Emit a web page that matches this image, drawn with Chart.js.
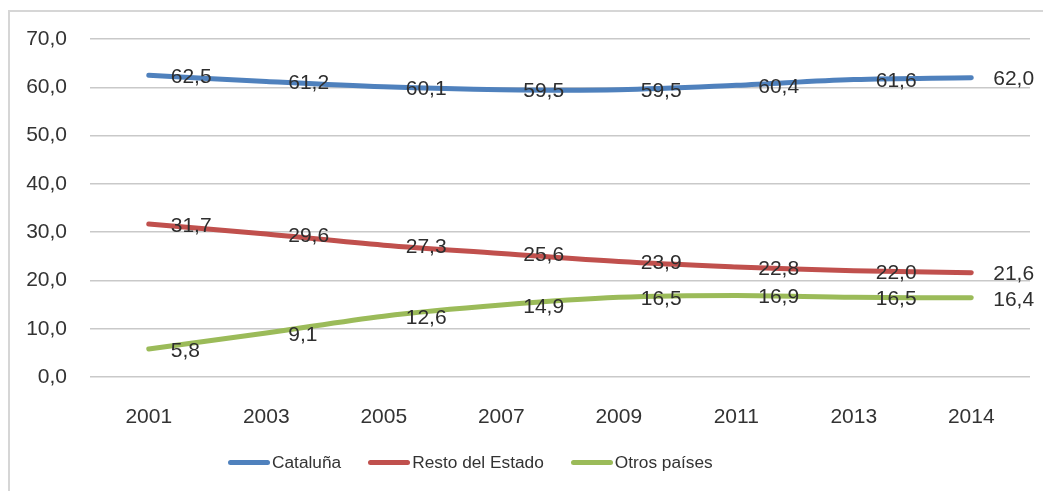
<!DOCTYPE html>
<html>
<head>
<meta charset="utf-8">
<script src="https://cdn.jsdelivr.net/npm/chart.js@4/dist/chart.umd.min.js"></script>
<style>
  html, body { margin: 0; padding: 0; background: #fff; overflow: hidden; }
  #wrap { position: relative; width: 1043px; height: 491px; }
  #frame { position: absolute; left: 8px; top: 10px; width: 1100px; height: 600px; border: 2px solid #d6d6d6; box-sizing: border-box; }
  #chart { position: absolute; left: 0; top: 0; }
  .customLegend { position: absolute; left: 228px; top: 449px; font-family: "Liberation Sans", Arial, sans-serif; font-size: 17.3px; color: #333; white-space: nowrap; }
  .legend { display: inline-flex; align-items: center; margin-right: 27px; }
  .boxIcon { display: inline-block; width: 42px; height: 5px; border-radius: 3px; margin-right: 2px; }
</style>
</head>
<body>
<div id="wrap">
  <div id="frame"></div>
  <canvas id="chart" width="1043" height="491"></canvas>
  <div class="customLegend" id="legend"></div>
</div>
<script>
// data
const years = ["2001", "2003", "2005", "2007", "2009", "2011", "2013", "2014"];
const cataluna = [62.5, 61.2, 60.1, 59.5, 59.5, 60.4, 61.6, 62.0];
const restoEstado = [31.7, 29.6, 27.3, 25.6, 23.9, 22.8, 22.0, 21.6];
const otrosPaises = [5.8, 9.1, 12.6, 14.9, 16.5, 16.9, 16.5, 16.4];
const yTickLabels = ["0,0", "10,0", "20,0", "30,0", "40,0", "50,0", "60,0", "70,0"];
const seriesNames = ["Cataluña", "Resto del Estado", "Otros países"];
const seriesColors = ["#4f81bd", "#c0504d", "#9bbb59"];

const fmt = (v) => v.toFixed(1).replace(".", ",");
const FONT = "'Liberation Sans', Arial, sans-serif";

// value labels to the right of each point
const valueLabels = {
  id: "valueLabels",
  afterDatasetsDraw(chart) {
    const { ctx } = chart;
    ctx.save();
    ctx.font = "21px " + FONT;
    ctx.fillStyle = "#2e2e2e";
    ctx.textAlign = "left";
    ctx.textBaseline = "middle";
    chart.data.datasets.forEach((ds, i) => {
      chart.getDatasetMeta(i).data.forEach((pt, j) => {
        ctx.fillText(fmt(ds.data[j]), pt.x + 22, pt.y + 2);
      });
    });
    ctx.restore();
  },
};

const makeSet = (label, data, color) => ({
  label,
  data,
  borderColor: color,
  backgroundColor: color,
  borderWidth: 5,
  borderCapStyle: "round",
  tension: 0.35,
  pointRadius: 0,
  fill: false,
});

const config = {
  type: "line",
  data: {
    labels: years,
    datasets: [
      makeSet(seriesNames[0], cataluna, seriesColors[0]),
      makeSet(seriesNames[1], restoEstado, seriesColors[1]),
      makeSet(seriesNames[2], otrosPaises, seriesColors[2]),
    ],
  },
  options: {
    responsive: false,
    animation: false,
    layout: { padding: { left: 0, right: 13, top: 39, bottom: 0 } },
    scales: {
      x: {
        offset: true,
        grid: { display: false },
        border: { display: false },
        ticks: { color: "#333", font: { family: FONT, size: 21 }, padding: 20 },
        afterFit: (scale) => { scale.height = 114; },
      },
      y: {
        min: 0,
        max: 70,
        ticks: {
          stepSize: 10,
          color: "#333",
          font: { family: FONT, size: 21 },
          padding: 23,
          callback: (v, idx) => yTickLabels[idx],
        },
        grid: { color: "#c9c9c9", lineWidth: 1.5, drawTicks: false },
        border: { display: false },
        afterFit: (scale) => { scale.width = 90; },
      },
    },
    plugins: {
      legend: { display: false },
      tooltip: { enabled: false },
    },
  },
  plugins: [valueLabels],
};

new Chart(document.getElementById("chart"), config);

// legend
const legendBox = document.getElementById("legend");
seriesNames.forEach((name, i) => {
  const item = document.createElement("span");
  item.className = "legend";
  item.innerHTML = '<span class="boxIcon" style="background-color:' + seriesColors[i] + '"></span><span>' + name + "</span>";
  legendBox.appendChild(item);
});
</script>
</body>
</html>
